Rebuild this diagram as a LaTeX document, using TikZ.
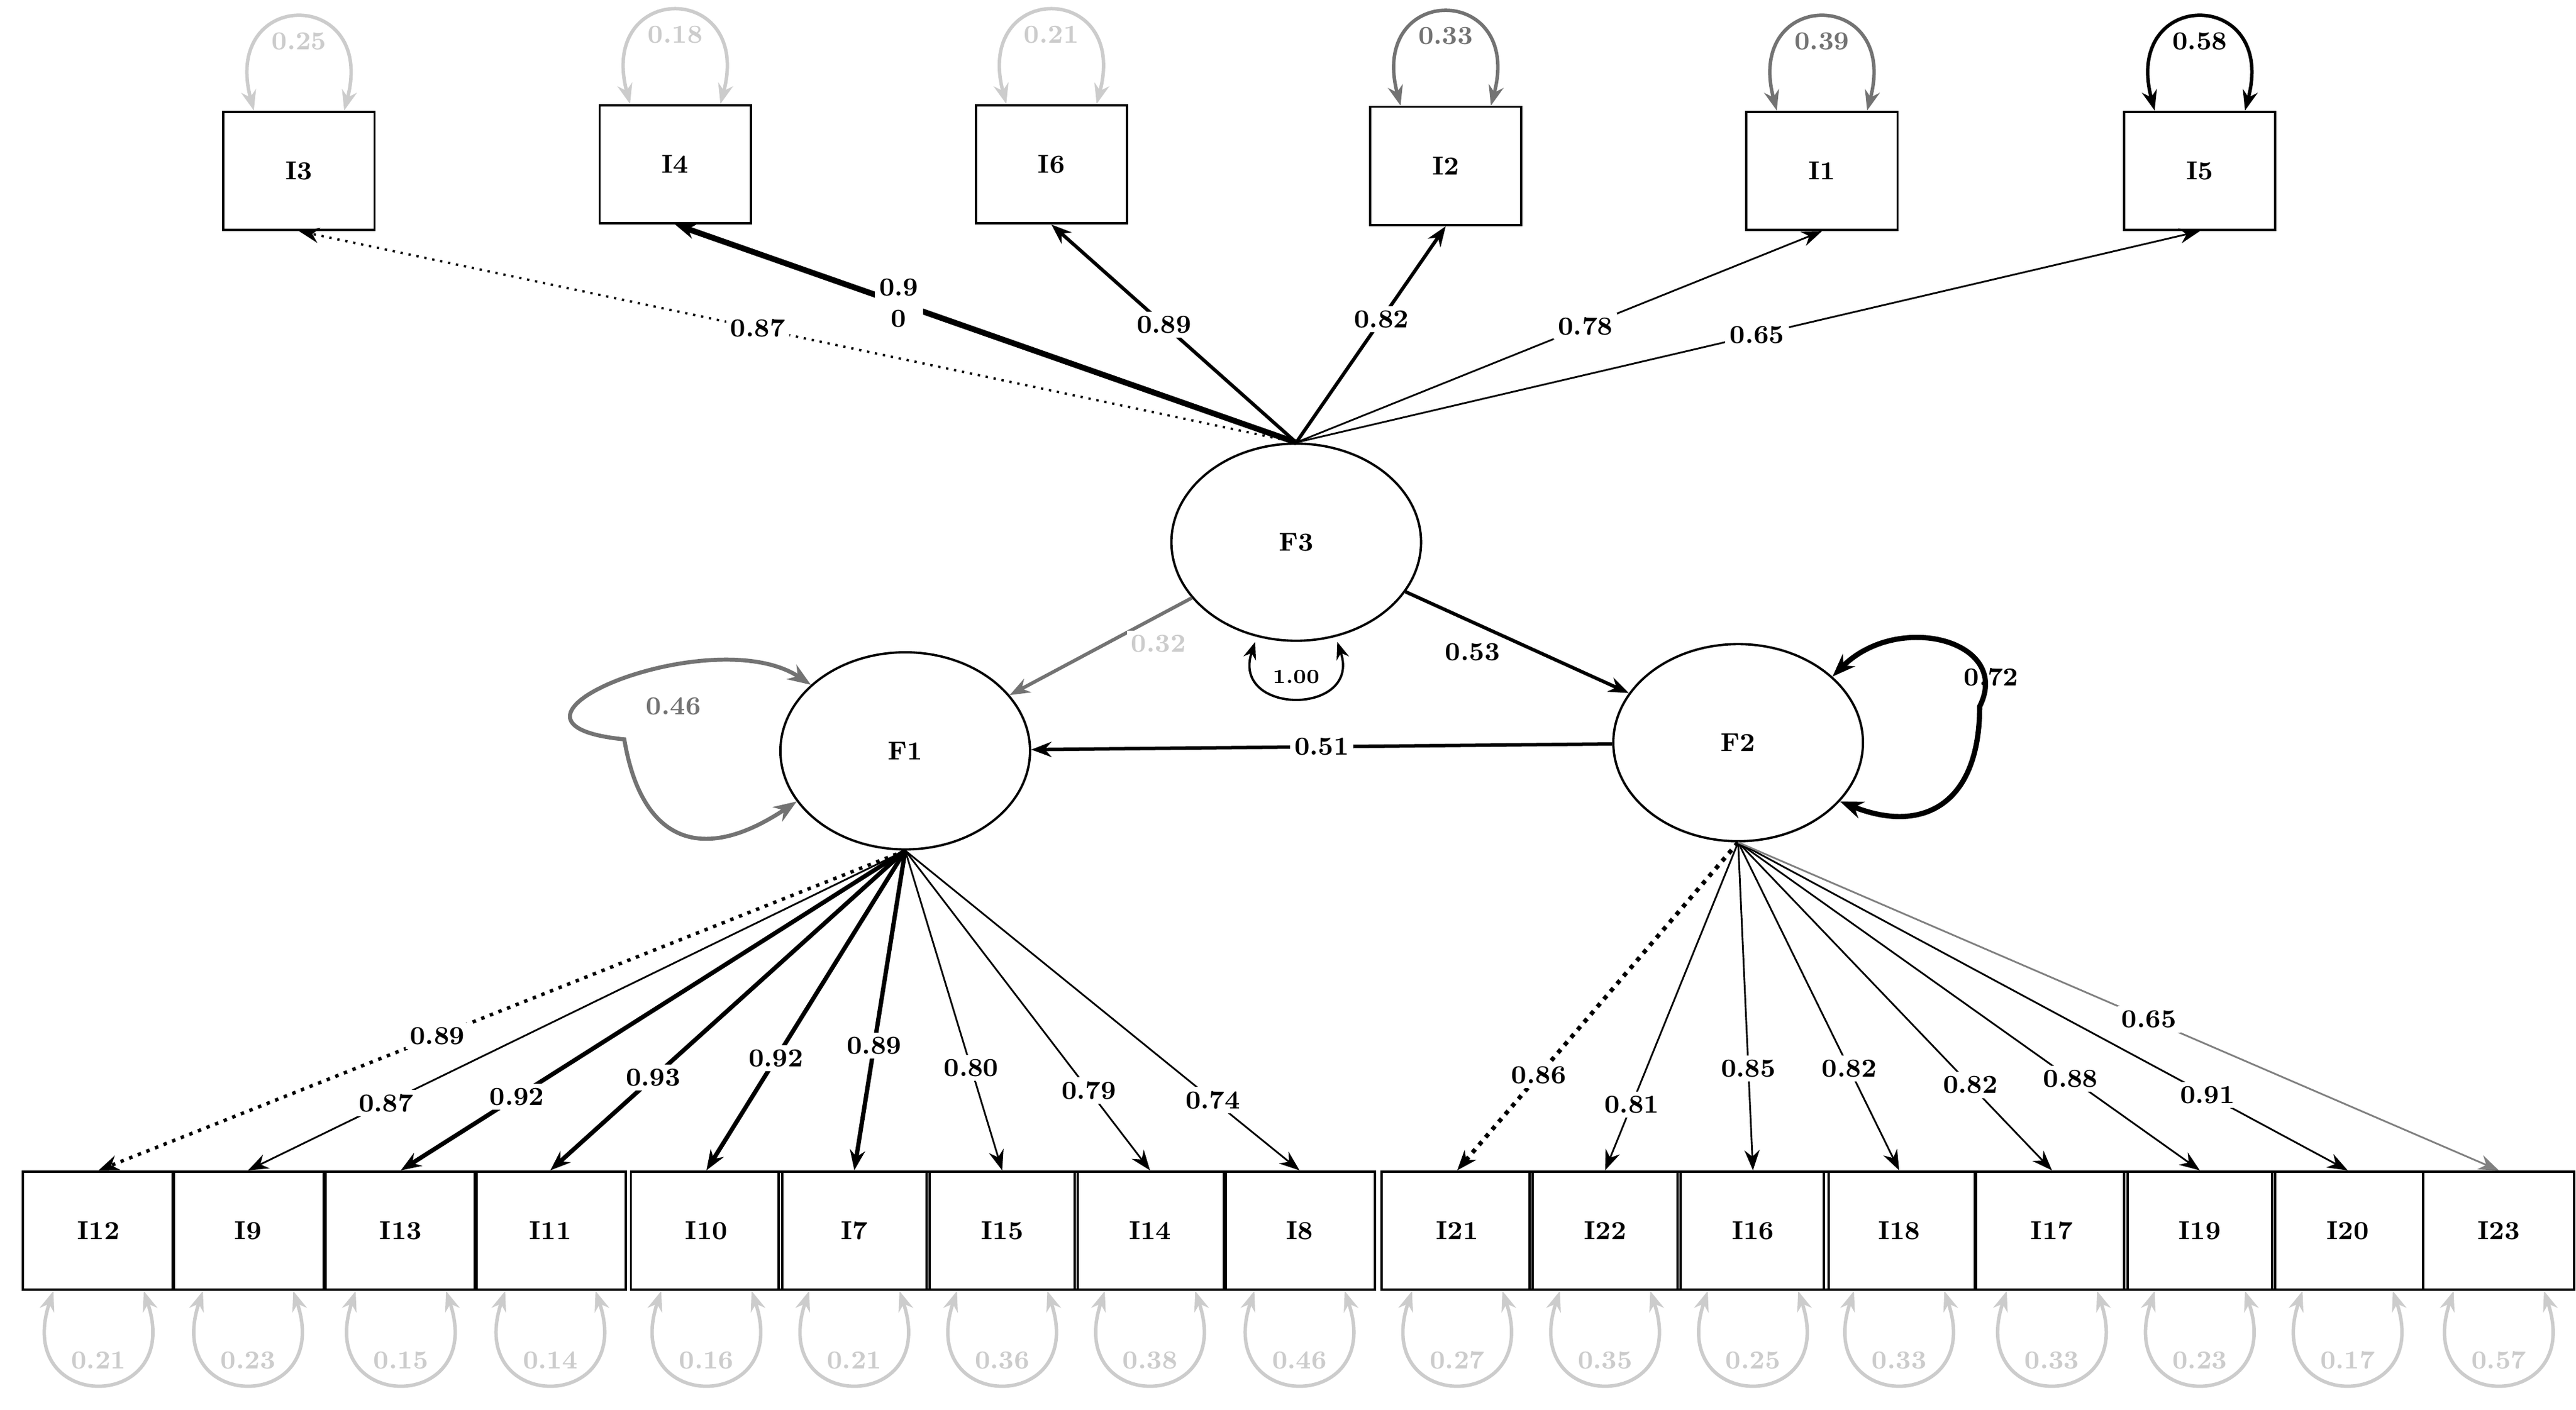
\documentclass[tikz,border=0pt]{standalone}
\usetikzlibrary{arrows.meta,shapes.geometric}
\begin{document}
\begin{tikzpicture}[x=0.02cm,y=-0.02cm,
 box/.style={draw,thick,minimum width=1.84cm,minimum height=1.44cm,font=\bfseries\small},
 lat/.style={draw,thick,ellipse,minimum width=3.04cm,minimum height=2.4cm,font=\bfseries\small},
 arr/.style={-{Stealth[length=7pt]}},
 lab/.style={fill=white,inner sep=1.5pt,font=\bfseries\small,align=center},
 lg/.style={black!20}, md/.style={black!55}]
\useasboundingbox (0,0) rectangle (1568,858);
% top boxes
\foreach \n/\x/\y in {I3/182/104,I4/411/100,I6/640/100,I2/880/101,I1/1109/104,I5/1339/104}
  \node[box] (\n) at (\x,\y) {\n};
\foreach \n/\x in {I12/60,I9/151,I13/244,I11/335,I10/430,I7/520,I15/610,I14/700,I8/791,I21/887,I22/977,I16/1067,I18/1156,I17/1249,I19/1339,I20/1429,I23/1521}
  \node[box] (\n) at (\x,749) {\n};
\node[lat] (F3) at (789,330) {F3};
\node[lat] (F1) at (551,457) {F1};
\node[lat] (F2) at (1058,452) {F2};
% top residual loops
\foreach \n/\v/\c in {I3/0.25/lg,I4/0.18/lg,I6/0.21/lg,I2/0.33/md,I1/0.39/md,I5/0.58/black}
  \draw[\c,line width=1.2pt,{Stealth[length=7pt]}-{Stealth[length=7pt]}] ([xshift=-0.55cm]\n.north) .. controls +(-20,-75) and +(20,-75) .. node[pos=0.5,below=1pt,font=\bfseries\small] {\v} ([xshift=0.55cm]\n.north);
% bottom residual loops
\foreach \n/\v in {I12/0.21,I9/0.23,I13/0.15,I11/0.14,I10/0.16,I7/0.21,I15/0.36,I14/0.38,I8/0.46,I21/0.27,I22/0.35,I16/0.25,I18/0.33,I17/0.33,I19/0.23,I20/0.17,I23/0.57}
  \draw[lg,line width=1.2pt,{Stealth[length=7pt]}-{Stealth[length=7pt]}] ([xshift=-0.55cm]\n.south) .. controls +(-25,75) and +(25,75) .. node[pos=0.5,above=1pt,font=\bfseries\small] {\v} ([xshift=0.55cm]\n.south);
% F3 loadings
\draw[arr,thick,dotted] (F3.north) -- node[lab,pos=0.54]{0.87} (I3.south);
\draw[arr,line width=2pt] (F3.north) -- node[lab,pos=0.64]{0.9\\0} (I4.south);
\draw[arr,line width=1.2pt] (F3.north) -- node[lab,pos=0.54]{0.89} (I6.south);
\draw[arr,line width=1.2pt] (F3.north) -- node[lab,pos=0.57]{0.82} (I2.south);
\draw[arr,semithick] (F3.north) -- node[lab,pos=0.55]{0.78} (I1.south);
\draw[arr,semithick] (F3.north) -- node[lab,pos=0.51]{0.65} (I5.south);
% structural
\draw[arr,md,line width=1.2pt] (F3) -- node[lab,text=black!20,pos=0.35,below right=-1pt]{0.32} (F1);
\draw[arr,line width=1.2pt] (F3) -- node[lab,pos=0.45,below left=0pt]{0.53} (F2);
\draw[arr,line width=1.2pt] (F2) -- node[lab,pos=0.5]{0.51} (F1);
\draw[thick,{Stealth[length=6pt]}-{Stealth[length=6pt]}] ([xshift=-0.5cm]F3.south) .. controls +(-15,45) and +(15,45) .. node[pos=0.5,above=1pt,font=\bfseries\scriptsize]{1.00} ([xshift=0.5cm]F3.south);
\draw[md,line width=1.4pt,{Stealth[length=8pt]}-{Stealth[length=8pt]}] (F1.145) .. controls +(-60,-40) and +(-100,-10) .. (380,450) .. controls +(10,60) and +(-60,40) .. (F1.205);
\node[font=\bfseries\small,text=black!55] (v46) at (410,430) {0.46};
\draw[line width=1.8pt,{Stealth[length=8pt]}-{Stealth[length=8pt]}] (F2.35) .. controls +(40,-40) and +(20,-40) .. (1205,430) .. controls +(0,60) and +(50,20) .. (F2.330);
\node[font=\bfseries\small] (v72) at (1212,412) {0.72};
% F1 loadings
\draw[arr,line width=1.2pt,dotted] (F1.south) -- node[lab,pos=0.58]{0.89} (I12.north);
\draw[arr,semithick] (F1.south) -- node[lab,pos=0.79]{0.87} (I9.north);
\draw[arr,line width=1.5pt] (F1.south) -- node[lab,pos=0.77]{0.92} (I13.north);
\draw[arr,line width=1.5pt] (F1.south) -- node[lab,pos=0.71]{0.93} (I11.north);
\draw[arr,line width=1.5pt] (F1.south) -- node[lab,pos=0.65]{0.92} (I10.north);
\draw[arr,line width=1.5pt] (F1.south) -- node[lab,pos=0.61]{0.89} (I7.north);
\draw[arr,semithick] (F1.south) -- node[lab,pos=0.68]{0.80} (I15.north);
\draw[arr,semithick] (F1.south) -- node[lab,pos=0.75]{0.79} (I14.north);
\draw[arr,semithick] (F1.south) -- node[lab,pos=0.78]{0.74} (I8.north);
% F2 loadings
\draw[arr,line width=1.5pt,dotted] (F2.south) -- node[lab,pos=0.71]{0.86} (I21.north);
\draw[arr,semithick] (F2.south) -- node[lab,pos=0.8]{0.81} (I22.north);
\draw[arr,semithick] (F2.south) -- node[lab,pos=0.69]{0.85} (I16.north);
\draw[arr,semithick] (F2.south) -- node[lab,pos=0.69]{0.82} (I18.north);
\draw[arr,semithick] (F2.south) -- node[lab,pos=0.74]{0.82} (I17.north);
\draw[arr,semithick] (F2.south) -- node[lab,pos=0.72]{0.88} (I19.north);
\draw[arr,semithick] (F2.south) -- node[lab,pos=0.77]{0.91} (I20.north);
\draw[arr,semithick,black!50] (F2.south) -- node[lab,text=black,pos=0.54]{0.65} (I23.north);
\end{tikzpicture}
\end{document}
